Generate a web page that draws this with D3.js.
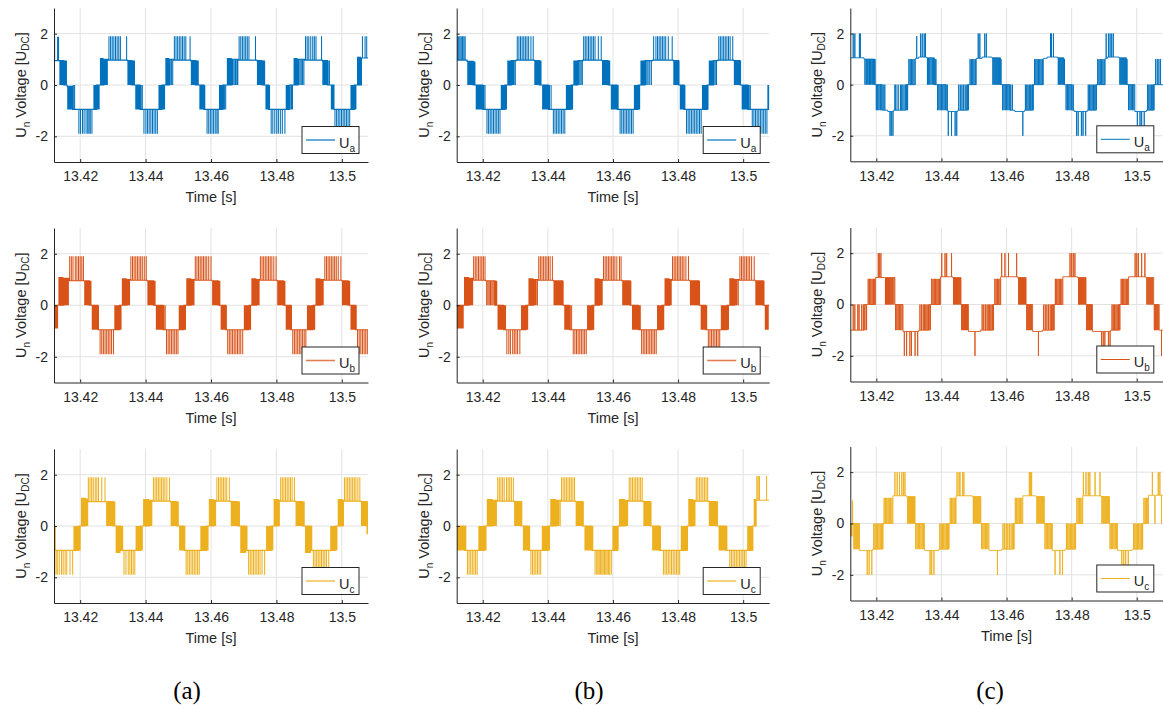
<!DOCTYPE html>
<html><head><meta charset="utf-8">
<script src="https://cdn.jsdelivr.net/npm/d3@7"></script>
<style>body{margin:0;background:#fff}svg{display:block}</style>
</head><body>
<svg id="c" width="1163" height="709"></svg>
<script>
// ---------- data ----------
const xTicks = [13.42, 13.44, 13.46, 13.48, 13.5];
const yTicks = [-2, 0, 2];
const xDomain = [13.412, 13.508];
const yDomain = [-3, 3];
const tOrigin = 13.4;               // band times below are in ms after 13.4 s
const phaseNames = ["a", "b", "c"];
const columnLabels = ["(a)", "(b)", "(c)"];
const xLabel = "Time [s]";

// each band: [start ms, base level, spike level, ...spike times ms]
const ua_a = [
[12.0,0.95,1.88,12.2,13.1,13.4],
[13.6,0.95,0,13.8,14.1,14.4,14.6,14.8],
[15.0,0,0.95,15.2,15.5,15.8],
[16.0,-0.05,-0.95,16.2,16.5,16.8,17.1,17.4],
[17.6,-0.95,0,17.9,18.3],
[19.2,-0.95,-1.9,19.6,20.1,20.7,21.2,21.8,22.3,22.7,23.1,23.6],
[24.0,-0.95,0,24.2,24.4,24.6,24.8],
[25.0,0,-0.95,25.2,25.5,25.8],
[26.0,0,1.05,26.2,26.5,26.8,27.0],
[27.2,1.0,0,27.4,27.7,28.0,28.3],
[28.6,0.97,1.9,28.8,29.3,29.8,30.3,30.8,31.3,31.8,32.3,34.2],
[34.4,0.95,0,34.6,34.9,35.2,35.5],
[35.8,0,0.95,36.0,36.3,36.6],
[36.8,0,-0.95,37.0,37.3,37.6,37.9,38.1],
[38.3,-0.95,0,38.6,39.0],
[39.3,-0.95,-1.9,39.5,40.1,40.6,41.1,41.6,42.1,42.6,43.1,43.6],
[43.9,-0.95,0,44.1,44.4,44.7],
[45.0,0,-0.95,45.2,45.5,45.8],
[46.0,0,1.05,46.2,46.5,46.8,47.1],
[47.3,1.0,0,47.5,47.9,48.3],
[48.6,0.97,1.9,48.8,49.3,49.8,50.3,50.8,51.3,51.8,52.3,53.6],
[53.8,0.95,0,54.0,54.3,54.6,54.9,55.1],
[55.3,0,0.95,55.5,55.8,56.1],
[56.4,0,-0.95,56.6,56.9,57.2,57.5],
[57.8,-0.95,0,58.1],
[58.6,-0.95,-1.9,58.8,59.3,59.8,60.3,60.8,61.3,61.8,62.2],
[62.4,-0.95,0,62.6,62.9,63.2,63.4],
[63.6,0,-0.95,63.8,64.1,64.5],
[64.8,0,1.05,65.0,65.3,65.6,65.9,66.2],
[66.4,1.0,0,66.7,67.1,67.5,67.9,68.2],
[68.4,0.97,1.9,68.6,69.1,69.6,70.1,70.6,71.1,71.6,73.6],
[74.0,0.95,0,74.2,74.5,74.8,75.1,75.4],
[75.6,0,0.95,75.8,76.1,76.4],
[76.6,0,-0.95,76.8,77.1,77.4],
[77.6,-0.95,0,77.9],
[78.2,-0.95,-1.9,78.4,78.9,79.5,80.1,80.6,81.2,81.8,82.6],
[82.8,-0.95,0,83.0,83.3,83.6,83.8],
[84.0,0,-0.95,84.2,84.6,84.9],
[85.2,0,1.05,85.4,85.7,86.0,86.3],
[86.6,1.0,0,86.8,87.2,87.6,88.0,88.4],
[88.6,0.97,1.9,88.9,89.4,89.9,90.5,91.1,91.6,92.1,93.8],
[94.0,0.95,0,94.2,94.5,94.8,95.1,95.4],
[95.6,0,0.95,95.8,96.2],
[96.6,0,-0.95,96.8,97.1,97.4],
[97.6,-0.95,-1.9,97.9,98.4,98.9,99.4,99.9,100.4,100.9,101.4,101.9,102.4],
[102.6,-0.95,0,102.8,103.1,103.4,103.6],
[103.8,0,-0.95,104.0,104.3],
[104.6,0,1.1,104.8,105.1,105.4,105.7],
[106.0,1.05,1.9,106.3,107.1,107.6]
];
const ub_a = [
[12.0,0,-0.9,12.2,12.5,12.8,13.1],
[13.3,0,1.1,13.5,13.8,14.1,14.4,14.7],
[15.0,1.05,0,15.2,15.5,15.8,16.1,16.4],
[16.6,0.95,1.9,16.8,17.3,17.8,18.5,19.0,19.5,20.0,20.5,21.0],
[21.2,0.95,0,21.4,21.7,22.0,22.3,22.6],
[22.8,0,0.95,23.0,23.3],
[23.5,0,-0.95,23.7,24.0,24.3,24.6,24.9,25.2],
[25.4,-0.95,0,25.6],
[25.8,-0.95,-1.9,26.1,26.6,27.1,27.6,28.1,28.6,29.1,29.6,30.2],
[30.4,-0.95,0,30.6,30.9,31.2,31.5,31.8],
[32.0,0,-0.95,32.2,32.5],
[32.7,0,1.05,32.9,33.2,33.5,33.8,34.1],
[34.3,1.0,0,34.5,34.8,35.1],
[35.3,0.97,1.9,35.5,36.0,36.5,37.0,37.5,38.0,38.5,39.0,39.6,40.2],
[40.5,0.95,0,40.7,41.0,41.3,41.6,41.9,42.2],
[42.4,0,0.95,42.6,42.9],
[43.1,0,-0.95,43.3,43.6,43.9,44.2,44.5,44.8,45.1],
[45.3,-0.95,0,45.6,46.0],
[46.2,-0.95,-1.9,46.4,46.9,47.4,47.9,48.4,48.9,49.4,49.9],
[50.1,-0.95,0,50.3,50.6,50.9,51.2,51.5],
[51.7,0,-0.95,51.9,52.2],
[52.4,0,1.05,52.6,52.9,53.2,53.5,53.8],
[54.0,1.0,0,54.2,54.5,54.8],
[55.0,0.97,1.9,55.2,55.7,56.2,56.7,57.2,57.7,58.2,58.7,59.3,60.0],
[60.3,0.95,0,60.5,60.8,61.1,61.4,61.7,62.0],
[62.2,0,0.95,62.4,62.7],
[62.9,0,-0.95,63.1,63.4,63.7,64.0,64.3],
[64.5,-0.95,0,64.7],
[64.9,-0.95,-1.9,65.1,65.6,66.1,66.6,67.1,67.6,68.1,68.6,69.1,69.7],
[70.0,-0.95,0,70.2,70.5,70.8,71.1,71.4],
[71.6,0,-0.95,71.8,72.1],
[72.3,0,1.05,72.5,72.8,73.1,73.4,73.7],
[73.9,1.0,0,74.1,74.4,74.7],
[74.9,0.97,1.9,75.1,75.6,76.1,76.6,77.1,77.6,78.1,78.6,79.2,79.9],
[80.2,0.95,0,80.4,80.7,81.0,81.3,81.6,81.9],
[82.1,0,0.95,82.3,82.6],
[82.8,0,-0.95,83.0,83.3,83.6,83.9,84.2],
[84.4,-0.95,0,84.6],
[84.8,-0.95,-1.9,85.0,85.5,86.0,86.5,87.0,87.5,88.0,88.5,89.0],
[89.3,-0.95,0,89.5,89.8,90.1,90.4,90.7,91.0],
[91.2,0,-0.95,91.4,91.7],
[91.9,0,1.05,92.1,92.4,92.7,93.0,93.3],
[93.5,1.0,0,93.7,94.0,94.3],
[94.6,0.97,1.9,94.8,95.3,95.8,96.3,96.8,97.3,97.8,98.3,98.9,99.7],
[100.0,0.95,0,100.2,100.5,100.8,101.1,101.4,101.7],
[101.9,0,0.95,102.1,102.4],
[102.6,0,-0.95,102.8,103.1,103.4,103.7,104.0],
[104.2,-0.95,0,104.4],
[104.6,-0.95,-1.9,104.8,105.3,105.8,106.3,106.8,107.3,107.8]
];
const uc_a = [
[12.0,0,-0.9,12.2],
[12.4,-0.95,-1.9,12.6,13.0,13.6,14.3,14.8,15.4,15.9,16.9,17.7],
[17.9,-0.95,0,18.1,18.4,18.7,19.0,19.3],
[19.5,0,-0.95,19.7,20.0],
[20.2,0,1.1,20.4,20.7,21.0,21.3,21.6],
[21.8,1.05,0,22.0,22.3],
[22.4,0.95,1.9,22.5,23.0,23.5,24.0,24.6,25.1,25.6,26.6,27.6],
[27.9,0.95,0,28.1,28.4,28.7,29.0,29.3,29.6,29.9],
[30.1,0,0.95,30.3,30.6],
[30.8,0,-1.05,31.0,31.3,31.6,31.9,32.2],
[32.4,-0.95,0,32.7,33.0],
[33.2,-0.95,-1.9,33.4,34.0,34.7,35.2,35.7,36.2,36.7],
[36.9,-0.95,0,37.1,37.4,37.7,38.0,38.3],
[38.5,0,-0.95,38.7,39.0],
[39.2,0,1.05,39.4,39.7,40.0,40.3,40.6,40.9],
[41.1,1.0,0,41.3,41.6,41.9],
[42.2,0.97,1.9,42.4,42.9,43.4,43.9,44.4,44.9,45.4,45.9,46.5,47.3],
[47.6,0.95,0,47.8,48.1,48.4,48.7,49.0,49.3],
[49.5,0,0.95,49.7,50.0],
[50.2,0,-0.95,50.4,50.7,51.0,51.3,51.6],
[51.8,-0.95,0,52.0],
[52.2,-0.95,-1.9,52.4,52.9,53.4,53.9,54.4,54.9,55.4,55.9,56.4],
[56.7,-0.95,0,56.9,57.2,57.5,57.8,58.1,58.4],
[58.6,0,-0.95,58.8,59.1],
[59.3,0,1.05,59.5,59.8,60.1,60.4,60.7],
[60.9,1.0,0,61.1,61.4],
[61.6,0.97,1.9,61.8,62.3,62.8,63.3,63.8,64.3,64.8,65.6],
[66.0,0.95,0,66.2,66.5,66.8,67.1,67.4,67.7,68.0],
[68.2,0,0.95,68.4,68.7],
[68.9,0,-1.05,69.1,69.4,69.7,70.0,70.3,70.6],
[70.8,-0.95,0,71.0],
[71.3,-0.95,-1.9,71.5,72.0,72.5,73.0,73.5,74.0,74.5,75.0,75.6,76.4],
[76.8,-0.95,0,77.0,77.3,77.6,77.9,78.2],
[78.4,0,-0.95,78.6,78.9],
[79.1,0,1.05,79.3,79.6,79.9,80.2,80.5],
[80.7,1.0,0,80.9],
[81.1,0.97,1.9,81.3,81.8,82.3,82.8,83.3,83.8,84.3,84.8,85.5],
[85.8,0.95,0,86.0,86.3,86.6,86.9,87.2,87.5,87.8],
[88.0,0,0.95,88.2,88.5],
[88.7,0,-1.05,88.9,89.2,89.5,89.8,90.1,90.4],
[90.6,-0.95,0,90.8],
[91.1,-0.95,-1.9,91.3,91.8,92.3,92.8,93.3,93.8,94.3,94.8,95.3,96.0],
[96.4,-0.95,0,96.6,96.9,97.2,97.5,97.8],
[98.0,0,-0.95,98.2,98.5],
[98.7,0,1.05,98.9,99.2,99.5,99.8,100.1],
[100.3,1.0,0,100.5],
[100.6,0.97,1.9,100.8,101.3,101.8,102.3,102.8,103.3,103.8,104.3,104.9,105.5],
[105.8,0.95,0,106.0,106.3,106.6,106.9,107.2,107.5],
[107.7,-0.3,0.95,107.9]
];
const ua_b = [
[12.0,0.97,1.9,12.2,12.6,13.0,13.4,13.8,14.2,14.6],
[15.2,0.92,0,15.4,15.7,16.0,16.3,16.6,16.9],
[17.1,0,0.92,17.3,17.6],
[17.8,0,-0.95,18.0,18.3,18.6,18.9,19.2,19.5,19.8],
[20.0,-0.95,0,20.3,20.7],
[21.0,-0.95,-1.9,21.3,21.8,22.3,22.8,23.3,23.8,24.3,24.8,25.3],
[25.5,-0.95,0,25.7,26.0,26.3,26.6],
[26.8,0,-0.95,27.0,27.3],
[27.5,0,0.95,27.7,28.0,28.3,28.6],
[28.8,0.95,0,29.0,29.3,29.6,30.0],
[30.3,0.97,1.9,30.6,31.1,31.6,32.1,32.6,33.1,33.6,34.1,34.8,35.5],
[35.8,0.95,0,36.0,36.3,36.6,36.9,37.2],
[37.4,0,0.95,37.6,37.9],
[38.2,0,-0.95,38.4,38.7,39.0,39.3,39.6,39.9],
[40.2,-0.95,0,40.5,41.0],
[41.5,-0.95,-1.9,41.7,42.2,42.7,43.2,43.7,44.2,44.7,45.2],
[45.5,-0.95,0,45.7,46.0,46.3,46.6,46.9],
[47.1,0,-0.95,47.3,47.6],
[47.8,0,0.95,48.0,48.3,48.6,48.9],
[49.2,0.95,0,49.4,49.8,50.2,50.6],
[50.8,0.97,1.9,51.0,51.5,52.0,52.5,53.0,53.5,54.0,54.5,55.5,56.4],
[56.6,0.95,0,56.8,57.1,57.4,57.7,58.0,58.3],
[58.5,0,0.95,58.7,59.0],
[59.3,0,-0.95,59.5,59.8,60.1,60.4,60.7,61.0],
[61.3,-0.95,0,61.6],
[62.0,-0.95,-1.9,62.2,62.7,63.2,63.7,64.2,64.7,65.2,65.7,66.2],
[66.4,-0.95,0,66.6,66.9,67.2,67.5],
[67.7,0,-0.95,67.9,68.2],
[68.4,0,0.95,68.6,68.9,69.2,69.5],
[69.8,0.95,0,70.0,70.4,70.8,71.3,71.8],
[72.2,0.97,1.9,72.5,73.2,73.7,74.2,74.7,75.2,75.7,76.2,77.0,78.2],
[78.5,0.95,0,78.7,79.0,79.3,79.6,79.9],
[80.1,0,0.95,80.3],
[80.5,0,-0.95,80.7,81.0,81.3,81.6],
[81.8,-0.95,0,82.1],
[82.4,-0.95,-1.9,82.6,83.1,83.6,84.1,84.6,85.1,85.6,86.1,86.6,87.1],
[87.3,-0.95,0,87.5,87.8,88.1,88.4,88.7],
[89.0,0,-0.95,89.2],
[89.4,0,0.95,89.6,89.9,90.2,90.5],
[90.8,0.95,0,91.0,91.4,91.8],
[92.2,0.97,1.9,92.5,93.0,93.5,94.0,94.5,95.0,95.5,96.0,96.8],
[97.1,0.95,0,97.3,97.6,97.9,98.2,98.5,98.8],
[99.0,0,0.95,99.2],
[99.5,0,-0.95,99.7,100.0,100.3,100.6,100.9,101.2],
[101.5,-0.95,0,101.8,102.2],
[102.6,-0.95,-1.9,102.8,103.3,103.8,104.3,104.8,105.3,105.8,106.3,106.8,107.3],
[107.5,-0.95,0,107.6,107.8,108.0]
];
const ub_b = [
[12.0,0,-0.9,12.2,12.5,12.8,13.1,13.4,13.7,14.0],
[14.2,0,1.1,14.4,14.7,15.0,15.3,15.6],
[15.8,1.05,0,16.0,16.3,16.6,16.9],
[17.0,0.97,1.9,17.2,17.7,18.2,18.7,19.2,19.7,20.2,20.7],
[20.9,0.95,0,21.2,21.6,22.0,22.4,22.8,23.2,23.6],
[23.8,0,0.95,24.0,24.3],
[24.5,0,-0.95,24.7,25.0,25.3,25.6,25.9,26.2],
[26.4,-0.95,0,26.7,27.0],
[27.2,-0.95,-1.9,27.4,28.0,28.5,29.2,29.7,30.2,30.7,31.4],
[31.7,-0.95,0,31.9,32.2,32.5,32.8,33.1],
[33.3,0,-0.95,33.5,33.8],
[34.0,0,1.05,34.2,34.5,34.8,35.1,35.4],
[35.6,1.0,0,35.8,36.1,36.4,36.8],
[37.0,0.97,1.9,37.2,37.7,38.2,38.7,39.2,39.7,40.2,40.7,41.4],
[41.7,0.95,0,41.9,42.2,42.5,42.8,43.1,43.4,43.7,44.0,44.3],
[44.5,0,0.95,44.7],
[45.0,0,-0.95,45.2,45.5,45.8,46.1,46.4],
[46.6,-0.95,0,46.9,47.3],
[47.6,-0.95,-1.9,47.8,48.3,48.8,49.3,49.8,50.3,50.8,51.3,51.8],
[52.0,-0.95,0,52.2,52.5,52.8,53.1,53.4],
[53.6,0,-0.95,53.8,54.1],
[54.3,0,1.05,54.5,54.8,55.1,55.4,55.7],
[55.9,1.0,0,56.1,56.4,56.7],
[56.9,0.97,1.9,57.1,57.6,58.1,58.6,59.1,59.6,60.1,60.6,61.2,62.0,62.5],
[62.8,0.95,0,63.0,63.3,63.6,63.9,64.2,64.5,64.8,65.1],
[65.3,0,0.95,65.5],
[65.8,0,-0.95,66.0,66.3,66.6,66.9,67.2,67.5],
[67.8,-0.95,0,68.1,68.4],
[68.6,-0.95,-1.9,68.8,69.3,69.8,70.3,70.8,71.3,71.8,72.3,72.8,73.3],
[73.5,-0.95,0,73.7,74.0,74.3,74.6,74.9],
[75.1,0,-0.95,75.3,75.6],
[75.8,0,1.05,76.0,76.3,76.6,76.9,77.2],
[77.4,1.0,0,77.6,77.9],
[78.1,0.97,1.9,78.3,78.8,79.3,79.8,80.3,80.8,81.3,81.8,82.4,83.2],
[83.6,0.95,0,83.8,84.1,84.4,84.7,85.0,85.3,85.6,85.9,86.2],
[86.4,0,0.95,86.6],
[86.9,0,-0.95,87.1,87.4,87.7,88.0,88.3],
[88.5,-0.95,0,88.8],
[89.1,-0.95,-1.9,89.3,89.8,90.3,90.8,91.3,91.8,92.3,92.8],
[93.1,-0.95,0,93.3,93.6,93.9,94.2,94.5,94.8],
[95.0,0,-0.95,95.2,95.5],
[95.7,0,1.05,95.9,96.2,96.5,96.8,97.1],
[97.3,1.0,0,97.5,97.8,98.1,98.5],
[98.8,0.97,1.9,99.0,99.5,100.0,100.5,101.0,101.5,102.0,102.6,103.4],
[103.7,0.95,0,103.9,104.2,104.5,104.8,105.1,105.4,105.7,106.0],
[106.2,0,0.95,106.4],
[106.6,0,-0.95,106.8,107.1,107.4,107.7]
];
const uc_b = [
[12.0,0,-0.95,12.2,12.5,12.8,13.1,13.4,13.7,14.0,14.3],
[14.5,-0.95,0,14.8],
[15.0,-0.95,-1.9,15.3,15.8,16.3,16.8,17.3,17.8,18.3],
[18.6,-0.95,0,18.8,19.1,19.4,19.7,20.0,20.3],
[20.5,0,-0.95,20.7,21.0],
[21.2,0,1.05,21.4,21.7,22.0,22.3,22.6,22.9],
[23.1,1.0,0,23.3,23.6,23.9,24.2],
[24.4,0.97,1.9,24.6,25.1,25.6,26.1,26.6,27.3,27.8,28.3,28.8,29.4],
[29.6,0.95,0,29.8,30.1,30.4,30.7,31.0,31.3,31.6],
[31.8,0,0.95,32.0],
[32.3,0,-0.95,32.5,32.8,33.1,33.4,33.7,34.0],
[34.2,-0.95,0,34.4],
[34.6,-0.95,-1.9,34.8,35.3,35.8,36.3,36.8,37.3,37.8],
[38.1,-0.95,0,38.3,38.6,38.9,39.2,39.5,39.8],
[40.0,0,-0.95,40.2,40.5],
[40.7,0,1.05,40.9,41.2,41.5,41.8,42.1,42.4],
[42.6,1.0,0,42.8,43.1,43.4,43.8],
[44.0,0.97,1.9,44.2,44.7,45.2,45.7,46.2,46.7,47.2,47.7,48.2],
[48.5,0.95,0,48.7,49.0,49.3,49.6,49.9,50.2,50.5],
[50.7,0,0.95,50.9],
[51.2,0,-0.95,51.4,51.7,52.0,52.3,52.6,52.9,53.2],
[53.5,-0.95,0,53.8],
[54.3,-0.95,-1.9,54.5,55.0,55.4,55.8,56.2,56.6,57.0,57.4,57.8,58.2,58.6,59.0,59.5],
[59.8,-0.95,0,60.0,60.3,60.6,60.9,61.2],
[61.4,0,-0.95,61.6],
[61.8,0,1.05,62.0,62.3,62.6,62.9,63.2,63.5],
[63.7,1.0,0,63.9,64.2,64.5],
[64.8,0.97,1.9,65.0,65.5,66.0,66.5,67.0,67.5,68.0,68.5,69.0],
[69.3,0.95,0,69.5,69.8,70.1,70.4,70.7,71.0,71.3],
[71.5,0,0.95,71.7],
[72.0,0,-0.95,72.2,72.5,72.8,73.1,73.4,73.7,74.0],
[74.3,-0.95,0,74.6],
[75.3,-0.95,-1.9,75.5,76.0,76.5,77.0,77.5,78.0,78.5,79.0,79.5,80.0,80.5],
[80.8,-0.95,0,81.0,81.3,81.6,81.9,82.2,82.5],
[82.7,0,-0.95,82.9],
[83.1,0,1.05,83.3,83.6,83.9,84.2,84.5],
[84.7,1.0,0,84.9,85.2],
[85.4,0.97,1.9,85.6,86.1,86.6,87.1,87.6,88.1,88.6,89.1],
[89.4,0.95,0,89.6,89.9,90.2,90.5,90.8,91.1,91.4,91.7],
[91.9,0,0.95,92.1],
[92.4,0,-0.95,92.6,92.9,93.2,93.5,93.8,94.1,94.4],
[94.7,-0.95,0,95.0],
[95.6,-0.95,-1.9,95.9,96.4,96.9,97.4,97.9,98.4,98.9,99.4,99.9,100.4,100.9],
[101.2,-0.95,0,101.4,101.7,102.0,102.3,102.6],
[102.8,0,-0.95,103.0],
[103.2,0,1.05,103.4,103.6,103.8],
[104.0,1.0,1.95,104.2,104.6,105.0,107.2]
];
const ua_c = [
[12.0,1.05,2.0,12.9,13.4,14.8,15.1],
[16.2,1.0,0,16.5,16.9,17.2,17.5,17.9,18.2,18.6,18.9,19.2],
[19.4,0,1.0,19.6],
[19.8,0,-1.0,20.0,20.4,20.8,21.2,21.5],
[21.8,-1.0,0,22.1,22.6],
[23.5,-1.05,-2.0,24.2,24.6,25.1],
[25.3,-1.0,0,25.7,26.0,26.7,27.4,27.8,28.2,28.8],
[29.0,0,-1.0,29.3,29.6],
[29.8,0,1.0,30.0,30.4,30.8,31.2,31.6],
[32.0,1.03,1.9,32.4],
[33.0,1.08,2.0,33.6,34.1,34.7,35.1],
[35.4,1.05,0,35.7,36.0,36.4,36.8,37.2,37.6],
[37.8,0,1.0,38.0,38.3],
[38.6,0,-1.0,38.8,39.2,39.6,40.0,40.4,40.8,41.2],
[41.5,-1.0,0,41.8],
[42.0,-1.05,-2.0,42.1,43.1,44.2,44.7],
[45.0,-1.0,0,45.3,45.8,46.3,46.8,47.3,47.8],
[48.0,0,-1.0,48.3],
[48.5,0,1.0,48.8,49.2,49.6,50.0,50.4],
[50.7,1.03,2.0,51.3,51.8],
[52.5,1.08,2.0,53.3,53.8],
[55.5,1.05,0,55.8,56.1,56.4,56.7,57.0,57.3,57.6,57.9],
[58.1,0,1.0,58.3],
[58.6,0,-1.0,58.8,59.2,59.6,60.0,60.4,60.8],
[61.0,-1.0,0,61.3,61.8],
[62.5,-1.05,-2.0,65.0],
[65.5,-1.0,0,65.8,66.2,66.6,67.0,67.4,67.8],
[68.0,0,-1.0,68.2],
[68.4,0,1.0,68.6,69.0,69.4,69.8,70.2,70.6,71.0],
[71.3,1.03,2.0],
[72.5,1.08,2.0,73.5,73.8,74.4],
[75.6,1.05,0,75.9,76.2,76.5,76.8,77.1,77.4],
[77.6,0,1.0,77.8],
[78.1,0,-1.0,78.3,78.7,79.1,79.5,79.9],
[80.2,-1.0,0,80.5],
[80.8,-1.05,-2.0,81.5,82.0,83.0,83.5,84.3],
[84.8,-1.0,0,85.1,85.5,85.9,86.3,86.7,87.1],
[87.4,0,-1.0,87.6],
[87.8,0,1.0,88.0,88.4,88.8,89.2,89.6,90.0],
[90.3,1.03,2.0,90.6],
[91.0,1.08,2.0,91.3,91.8,92.3,92.8],
[94.5,1.05,0,94.8,95.1,95.4,95.7,96.0,96.3,96.6],
[96.8,0,1.0,97.0],
[97.3,0,-1.0,97.5,97.9,98.3,98.7,99.1],
[99.4,-1.05,-2.0,100.2,101.0,101.5,102.3],
[103.0,-1.0,0,103.3,103.7,104.1,104.5,104.9],
[105.1,0,-1.0,105.3],
[105.6,0,1.0,105.8,106.3,106.8,107.3]
];
const ub_c = [
[12.0,-1.0,0,12.9,13.4,14.3,14.7,15.5,16.0],
[16.3,0,-1.0,16.5,17.0],
[17.3,0,1.0,17.5,17.9,18.3,18.7,19.1,19.5],
[19.7,1.05,2.0,20.6,20.9,21.4],
[22.5,1.05,0,22.8,23.1,23.4,23.7,24.0,24.3,24.6,25.0,25.4],
[25.7,0,-1.0,25.9,26.3,26.7,27.1,27.5,27.9],
[28.2,-1.05,-2.0,28.6,29.3,30.3,30.8,31.9,32.7],
[33.0,-1.0,0,33.4,33.9,34.4,34.8,35.2,35.6,36.0],
[36.3,0,-1.0,36.6],
[36.8,0,1.0,37.0,37.4,37.8,38.2,38.6,39.0,39.4],
[39.7,1.08,2.0,40.1,41.1,41.6,43.1],
[43.4,1.05,0,43.7,44.0,44.3,44.6,44.9,45.2,45.5,45.8],
[46.0,0,-1.0,46.2,46.5,46.8,47.1,47.4,47.7,48.0],
[48.3,-1.05,-2.0,50.3],
[52.0,-1.0,0,52.5,53.0,53.5,54.0,54.4,54.8,55.2,55.6],
[55.8,0,-1.0,56.0],
[56.2,0,1.0,56.4,56.8,57.2,57.6,58.0],
[58.2,1.08,2.0,58.5,59.5,60.6,63.1],
[63.4,1.05,0,63.7,64.0,64.3,64.6,64.9,65.2,65.5,65.8],
[66.0,0,-1.0,66.2,66.5,66.8,67.1,67.4,67.7],
[68.0,-1.05,-2.0,69.8],
[71.0,-1.0,0,71.4,71.9,72.4,72.9,73.4,73.8,74.2],
[74.4,0,-1.0,74.6],
[74.8,0,1.0,75.0,75.4,75.8,76.2,76.6,77.0],
[77.3,1.08,2.0,79.5,80.0,80.5,81.0],
[81.8,1.05,0,82.1,82.4,82.7,83.0,83.3,83.6,83.9,84.2],
[84.4,0,-1.0,84.6,84.9,85.2,85.5,85.8,86.1],
[86.4,-1.05,-2.0,89.2,89.7,90.2,91.3,91.8],
[92.0,-1.0,0,92.4,92.8,93.2,93.6,94.0,94.4],
[94.6,0,-1.0,94.8],
[95.0,0,1.0,95.2,95.6,96.0,96.4,96.8,97.2],
[97.5,1.08,2.0,99.5,100.0,100.5,101.5,102.5],
[102.8,1.05,0,103.1,103.4,103.7,104.0,104.3,104.6,104.9],
[105.2,0,-1.0,105.4,105.7,106.0,106.3,106.6],
[106.9,-1.0,-2.0,107.6]
];
const uc_c = [
[12.0,0,-0.5,12.2,12.5],
[12.6,0,0.9,12.7],
[12.9,0,-1.0,13.1,13.4,13.7,14.0,14.3,14.6],
[14.8,-1.05,-2.0,17.2,17.8,18.6],
[18.9,-1.0,0,19.2,19.6,20.0,20.4,20.8,21.2,21.6],
[21.8,0,-1.0,22.0],
[22.2,0,1.0,22.4,22.8,23.2,23.6,24.0,24.4,24.8],
[25.1,1.08,2.0,25.7,26.4,27.1,27.8,28.3,28.8],
[29.3,1.05,0,29.6,29.9,30.2,30.5,30.8,31.1,31.4,31.7],
[31.9,0,-1.0,32.1,32.5,32.9,33.3,33.7,34.1,34.5],
[34.8,-1.05,-2.0,36.5,37.0,37.7],
[39.2,-1.0,0,39.5,39.9,40.3,40.7,41.1,41.5,41.9],
[42.1,0,-1.0,42.3],
[42.5,0,1.0,42.7,43.1,43.5,43.9,44.3],
[44.5,1.08,2.0,44.8,45.4,45.7,46.5,46.9],
[49.5,1.05,0,49.8,50.1,50.4,50.7,51.0,51.3,51.6,51.9],
[52.1,0,-1.0,52.3,52.7,53.1,53.5,53.9,54.3],
[54.6,-1.05,-2.0,57.2],
[58.5,-1.0,0,58.9,59.4,59.9,60.4,60.9,61.4,61.9],
[62.1,0,-1.0,62.3],
[62.5,0,1.0,62.7,63.1,63.5,63.9,64.3,64.7],
[65.0,1.08,2.0,67.0,67.4,67.7],
[69.0,1.05,0,69.3,69.6,69.9,70.2,70.5,70.8,71.1,71.4],
[71.6,0,-1.0,71.8,72.2,72.6,73.0,73.4,73.8],
[74.1,-1.05,-2.0,74.9,76.4,77.2],
[78.0,-1.0,0,78.4,78.8,79.2,79.6,80.0,80.4,80.8],
[81.0,0,-1.0,81.2],
[81.4,0,1.0,81.6,82.0,82.4,82.8,83.2],
[83.4,1.08,2.0,83.6,84.4,85.1,85.6,87.2,88.7],
[89.0,1.05,0,89.3,89.6,89.9,90.2,90.5,90.8,91.1,91.4],
[91.6,0,-1.0,91.8,92.2,92.6,93.0,93.4,93.8],
[94.1,-1.05,-2.0,95.4,96.0,96.6,97.4],
[98.6,-1.0,0,99.0,99.4,99.8,100.2,100.6,101.0,101.4],
[101.6,0,-1.0,101.8],
[102.0,0,1.0,102.2,102.6,103.0,103.4],
[103.6,1.1,2.0,104.8],
[105.5,1.1,0,105.6],
[105.8,1.1,2.0,106.6,107.1],
[107.4,1.1,0,107.6]
];

// ---------- layout ----------
const W = 1163, H = 709;
const colX = [[54, 368], [456.7, 769.2], [850.3, 1162.8]];
const rowY = [
  [[8, 162], [228, 382.5], [449, 603]],
  [[8, 162], [228, 382.5], [449, 603]],
  [[8, 161.3], [227.5, 381.5], [446.5, 600.5]]
];
const colors = ["#0072BD", "#D95319", "#EDB120"];
const showTime = [[1,1,1],[1,1,1],[0,0,1]];
const columnLabelX = [187, 589, 990];
const FONT = "'Liberation Sans', Arial, Helvetica, sans-serif";
const INK = "#262626";

const panels = [
  {col:0,row:0,data:ua_a},{col:0,row:1,data:ub_a},{col:0,row:2,data:uc_a},
  {col:1,row:0,data:ua_b},{col:1,row:1,data:ub_b},{col:1,row:2,data:uc_b},
  {col:2,row:0,data:ua_c},{col:2,row:1,data:ub_c},{col:2,row:2,data:uc_c}
];

const svg = d3.select("#c");
svg.append("rect").attr("width", W).attr("height", H).attr("fill", "#fff");
const defs = svg.append("defs");

function bandPoints(bands) {
  const pts = [];
  bands.forEach((b, i) => {
    const [t0, base, alt, ...spikes] = b;
    const tEnd = i + 1 < bands.length ? bands[i + 1][0] : 108.5;
    pts.push([t0, base]);
    spikes.forEach(s => { pts.push([s, base], [s, alt], [s, base]); });
    pts.push([tEnd, base]);
  });
  return pts;
}

panels.forEach(p => {
  const [x0, x1] = colX[p.col];
  const [y0, y1] = rowY[p.col][p.row];
  const x = d3.scaleLinear().domain(xDomain).range([x0, x1]);
  const y = d3.scaleLinear().domain(yDomain).range([y1, y0]);
  const g = svg.append("g");
  const color = colors[p.row];

  // grid
  g.selectAll("line.gx").data(xTicks).join("line").attr("class", "gx")
    .attr("x1", d => x(d)).attr("x2", d => x(d)).attr("y1", y0).attr("y2", y1)
    .attr("stroke", "#e2e2e2").attr("stroke-width", 1);
  g.selectAll("line.gy").data(yTicks).join("line").attr("class", "gy")
    .attr("x1", x0).attr("x2", x1).attr("y1", d => y(d)).attr("y2", d => y(d))
    .attr("stroke", "#e2e2e2").attr("stroke-width", 1);

  // waveform
  const cid = `clip${p.col}${p.row}`;
  defs.append("clipPath").attr("id", cid).append("rect")
    .attr("x", x0).attr("y", y0).attr("width", x1 - x0).attr("height", y1 - y0);
  const line = d3.line().x(d => x(tOrigin + d[0] / 1000)).y(d => y(d[1]));
  g.append("path").attr("d", line(bandPoints(p.data)))
    .attr("clip-path", `url(#${cid})`)
    .attr("fill", "none").attr("stroke", color)
    .attr("stroke-width", p.col === 2 ? 0.9 : 1.05)
    .attr("stroke-linejoin", "miter");

  // axes
  const ax = g.append("g").attr("transform", `translate(0,${y1})`)
    .call(d3.axisBottom(x).tickValues(xTicks).tickFormat(d => String(d))
      .tickSizeInner(-3).tickSizeOuter(0).tickPadding(9.5));
  const ay = g.append("g").attr("transform", `translate(${x0},0)`)
    .call(d3.axisLeft(y).tickValues(yTicks).tickFormat(d => String(d))
      .tickSizeInner(-3).tickSizeOuter(0).tickPadding(6));
  [ax, ay].forEach(a => {
    a.attr("font-family", FONT).attr("font-size", 14);
    a.selectAll("path,line").attr("stroke", INK);
    a.selectAll("text").attr("fill", INK);
  });

  // x label
  if (showTime[p.col][p.row]) {
    g.append("text").attr("x", (x0 + x1) / 2).attr("y", y1 + 40)
      .attr("text-anchor", "middle").attr("font-family", FONT).attr("font-size", 14.5)
      .attr("fill", INK).text(xLabel);
  }

  // y label
  const yl = g.append("text")
    .attr("transform", `translate(${x0 - 28},${(y0 + y1) / 2}) rotate(-90)`)
    .attr("text-anchor", "middle").attr("font-family", FONT).attr("font-size", 14.5)
    .attr("fill", INK);
  yl.append("tspan").text("U");
  yl.append("tspan").attr("dy", 4).attr("font-size", 10).text("n");
  yl.append("tspan").attr("dy", -4).text(" Voltage [U");
  yl.append("tspan").attr("dy", 3).attr("font-size", 10).text("DC");
  yl.append("tspan").attr("dy", -3).text("]");

  // legend
  const lx = x1 - 66, ly = y1 - 35.5;
  g.append("rect").attr("x", lx).attr("y", ly).attr("width", 57).attr("height", 27)
    .attr("fill", "#fff").attr("stroke", INK).attr("stroke-width", 1);
  g.append("line").attr("x1", lx + 4).attr("x2", lx + 33)
    .attr("y1", ly + 13.5).attr("y2", ly + 13.5)
    .attr("stroke", color).attr("stroke-width", p.col === 2 ? 1 : 1.6)
    .attr("stroke-opacity", p.col === 2 ? 1 : 0.75);
  const lt = g.append("text").attr("x", lx + 37).attr("y", ly + 21)
    .attr("font-family", FONT).attr("font-size", 14.5).attr("fill", INK);
  lt.append("tspan").text("U");
  lt.append("tspan").attr("dy", 4).attr("font-size", 10).text(phaseNames[p.row]);
});

// column captions
svg.selectAll("text.cap").data(columnLabels).join("text").attr("class", "cap")
  .attr("x", (d, i) => columnLabelX[i]).attr("y", 699)
  .attr("text-anchor", "middle")
  .attr("font-family", "'Liberation Serif', 'Times New Roman', serif")
  .attr("font-size", 25).attr("fill", "#000").text(d => d);
</script>
</body></html>
